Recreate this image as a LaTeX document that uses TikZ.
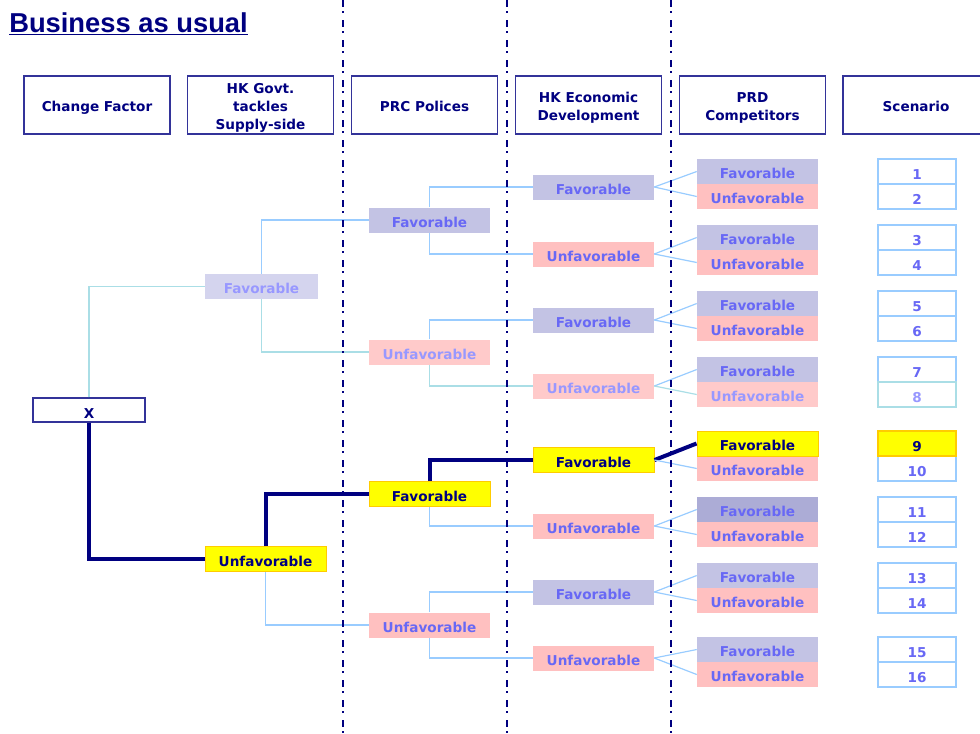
\documentclass[tikz,border=0pt]{standalone}
\usepackage{fontspec}
\setmainfont{DejaVu Sans}
\newfontfamily\titlefont{Liberation Sans}
\definecolor{navy}{RGB}{0,0,128}
\definecolor{hdrline}{RGB}{51,51,153}
\definecolor{nodetext}{RGB}{104,104,245}
\definecolor{fadetext}{RGB}{152,152,255}
\definecolor{favfill}{RGB}{195,195,228}
\definecolor{favfadefill}{RGB}{212,212,238}
\definecolor{favdarkfill}{RGB}{172,172,214}
\definecolor{unffill}{RGB}{255,192,192}
\definecolor{unffadefill}{RGB}{255,202,202}
\definecolor{linkblue}{RGB}{153,204,255}
\definecolor{linkteal}{RGB}{170,222,230}
\definecolor{hityellow}{RGB}{255,255,0}
\definecolor{hitborder}{RGB}{255,204,0}
\newcommand\hdrlines[1]{\begin{tabular}[t]{@{}c@{}}#1\end{tabular}}
\tikzset{
  txt/.style={font=\fontsize{10.2}{13.5}\selectfont\bfseries},
  hdr/.style={txt, draw=hdrline, line width=0.9pt, text=navy,
    minimum width=109.5pt, minimum height=43.5pt, inner sep=0pt,
    text height=9pt, text depth=0pt},
  twolines/.style={text height=8pt, text depth=12.5pt},
  threelines/.style={text height=8pt, text depth=26pt},
  choice/.style={txt, minimum width=90.75pt, minimum height=18.75pt, inner sep=0pt,
    text=nodetext, text height=10.8pt, text depth=0pt},
  fav/.style={choice, fill=favfill},
  favfade/.style={choice, fill=favfadefill, text=fadetext},
  favdark/.style={choice, fill=favdarkfill},
  unf/.style={choice, fill=unffill},
  unffade/.style={choice, fill=unffadefill, text=fadetext},
  hit/.style={choice, fill=hityellow, draw=hitborder, line width=0.75pt, text=navy},
  scen/.style={txt, draw=linkblue, line width=1.3pt, fill=white, text=nodetext,
    minimum width=58.5pt, minimum height=18.75pt, inner sep=0pt,
    text height=11.3pt, text depth=0pt},
  scenfade/.style={scen, draw=linkteal, text=fadetext},
  scenhit/.style={scen, draw=hitborder, fill=hityellow, text=navy},
  link/.style={draw=linkblue, line width=0.9pt},
  linkfade/.style={draw=linkteal, line width=0.9pt},
  best/.style={draw=navy, line width=3pt},
  divider/.style={draw=navy, line width=1.5pt, dash pattern=on 5.25pt off 3pt on 1.5pt off 5.25pt}
}
\begin{document}
\begin{tikzpicture}[x=0.75pt,y=-0.75pt]
\useasboundingbox (0,0) rectangle (980,733);

% title
\node[anchor=base west, inner sep=0pt, text=navy, font=\titlefont\fontsize{20.5}{24}\selectfont\bfseries] (T) at (9,32) {Business as usual};
\draw[navy, line width=1.1pt] ([yshift=-2pt]T.base west) -- ([yshift=-2pt]T.base east);

% column headers
\node[hdr] (H1) at (97,105) {Change Factor};
\node[hdr, threelines] (H2) at (260.5,105) {\hdrlines{HK Govt.\\tackles\\Supply-side}};
\node[hdr] (H3) at (424.5,105) {PRC Polices};
\node[hdr, twolines] (H4) at (588.5,105) {\hdrlines{HK Economic\\Development}};
\node[hdr, twolines] (H5) at (752.5,105) {\hdrlines{PRD\\Competitors}};
\node[hdr] (H6) at (916,105) {Scenario};

% tree
\node[txt, draw=hdrline, line width=0.9pt, fill=white, text=navy, minimum width=84pt, minimum height=18pt, inner sep=0pt, text height=13pt, text depth=0pt] (X) at (89,410) {X};

\node[favfade, minimum width=84.75pt] (A1) at (261.5,286.5) {Favorable};
\node[hit] (A2) at (265.5,559) {Unfavorable};

\node[fav] (B1) at (429.5,220) {Favorable};
\node[unffade] (B2) at (429.5,352) {Unfavorable};
\node[hit] (B3) at (429.5,494) {Favorable};
\node[unf] (B4) at (429.5,625) {Unfavorable};

\node[fav] (C1) at (593.5,187) {Favorable};
\node[unf] (C2) at (593.5,254) {Unfavorable};
\node[fav] (C3) at (593.5,320) {Favorable};
\node[unffade] (C4) at (593.5,386) {Unfavorable};
\node[hit] (C5) at (593.5,460) {Favorable};
\node[unf] (C6) at (593.5,526) {Unfavorable};
\node[fav] (C7) at (593.5,592) {Favorable};
\node[unf] (C8) at (593.5,658) {Unfavorable};

\node[fav] (D1) at (757.5,171.5) {Favorable};
\node[unf] (D2) at (757.5,196.5) {Unfavorable};
\node[fav] (D3) at (757.5,237.5) {Favorable};
\node[unf] (D4) at (757.5,262.5) {Unfavorable};
\node[fav] (D5) at (757.5,303.5) {Favorable};
\node[unf] (D6) at (757.5,328.5) {Unfavorable};
\node[fav] (D7) at (757.5,369.5) {Favorable};
\node[unffade] (D8) at (757.5,394.5) {Unfavorable};
\node[unf] (D10) at (757.5,468.5) {Unfavorable};
\node[hit] (D9) at (757.5,443.5) {Favorable};
\node[favdark] (D11) at (757.5,509.5) {Favorable};
\node[unf] (D12) at (757.5,534.5) {Unfavorable};
\node[fav] (D13) at (757.5,575.5) {Favorable};
\node[unf] (D14) at (757.5,600.5) {Unfavorable};
\node[fav] (D15) at (757.5,649.5) {Favorable};
\node[unf] (D16) at (757.5,674.5) {Unfavorable};

% scenarios
\node[scen] (S1) at (917,171.5) {1};
\node[scen] (S2) at (917,196.5) {2};
\node[scen] (S3) at (917,237.5) {3};
\node[scen] (S4) at (917,262.5) {4};
\node[scen] (S5) at (917,303.5) {5};
\node[scen] (S6) at (917,328.5) {6};
\node[scen] (S7) at (917,369.5) {7};
\node[scenfade] (S8) at (917,394.5) {8};
\node[scen] (S10) at (917,468.5) {10};
\node[scenhit] (S9) at (917,443.5) {9};
\node[scen] (S11) at (917,509.5) {11};
\node[scen] (S12) at (917,534.5) {12};
\node[scen] (S13) at (917,575.5) {13};
\node[scen] (S14) at (917,600.5) {14};
\node[scen] (S15) at (917,649.5) {15};
\node[scen] (S16) at (917,674.5) {16};

% branches
\path[linkfade] (X.north) |- (A1.west);
\path[best] (X.south) |- (A2.west);
\path[link] (A1.north) |- (B1.west);
\path[linkfade] (A1.south) |- (B2.west);
\path[best] (A2.north) |- (B3.west);
\path[link] (A2.south) |- (B4.west);
\path[link] (B1.north) |- (C1.west);
\path[link] (B1.south) |- (C2.west);
\path[link] (B2.north) |- (C3.west);
\path[linkfade] (B2.south) |- (C4.west);
\path[best] (B3.north) |- (C5.west);
\path[link] (B3.south) |- (C6.west);
\path[link] (B4.north) |- (C7.west);
\path[link] (B4.south) |- (C8.west);
\path[link] (C1.east) -- (D1.west);
\path[link] (C1.east) -- (D2.west);
\path[link] (C2.east) -- (D3.west);
\path[link] (C2.east) -- (D4.west);
\path[link] (C3.east) -- (D5.west);
\path[link] (C3.east) -- (D6.west);
\path[link] (C4.east) -- (D7.west);
\path[linkfade] (C4.east) -- (D8.west);
\path[best] (C5.east) -- (D9.west);
\path[link] (C5.east) -- (D10.west);
\path[link] (C6.east) -- (D11.west);
\path[link] (C6.east) -- (D12.west);
\path[link] (C7.east) -- (D13.west);
\path[link] (C7.east) -- (D14.west);
\path[link] (C8.east) -- (D15.west);
\path[link] (C8.east) -- (D16.west);

% column dividers
\coordinate (V1a) at (343,0);
\coordinate (V1b) at (343,733);
\coordinate (V2a) at (507,0);
\coordinate (V2b) at (507,733);
\coordinate (V3a) at (671,0);
\coordinate (V3b) at (671,733);
\path[divider] (V1a) -- (V1b);
\path[divider] (V2a) -- (V2b);
\path[divider] (V3a) -- (V3b);
\end{tikzpicture}
\end{document}
